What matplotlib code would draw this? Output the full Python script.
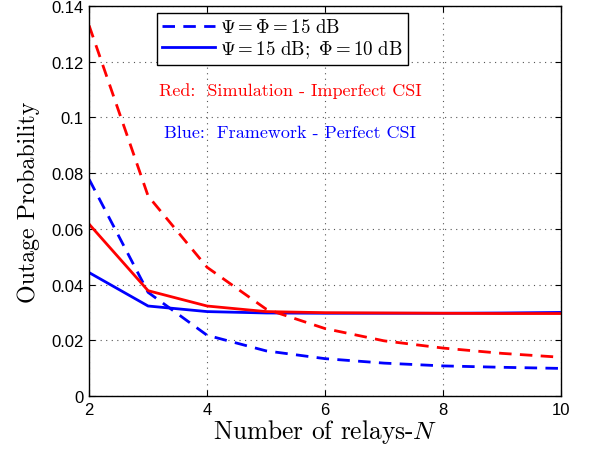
import numpy as np
import matplotlib.pyplot as plt

plt.rcParams['mathtext.fontset'] = 'cm'
plt.rcParams['font.family'] = ['Liberation Sans', 'DejaVu Sans']
plt.rcParams['axes.unicode_minus'] = False

# ==========================================
# DATA
# ==========================================
n_relays = [2, 3, 4, 5, 6, 7, 8, 9, 10]

# Red: simulation, imperfect CSI
sim_equal = [0.1330, 0.0718, 0.0462, 0.0312, 0.0242, 0.0198, 0.0172, 0.0153, 0.0139]
sim_unequal = [0.0617, 0.0378, 0.0323, 0.0303, 0.0299, 0.0298, 0.0297, 0.0296, 0.0296]

# Blue: framework, perfect CSI
fw_equal = [0.0778, 0.0372, 0.0218, 0.0162, 0.0134, 0.0118, 0.0108, 0.0103, 0.0099]
fw_unequal = [0.0443, 0.0323, 0.0303, 0.0298, 0.0297, 0.0297, 0.0297, 0.0298, 0.0300]

x_ticks = [2, 4, 6, 8, 10]
y_ticks = [0, 0.02, 0.04, 0.06, 0.08, 0.1, 0.12, 0.14]
y_ticklabels = ['0', '0.02', '0.04', '0.06', '0.08', '0.1', '0.12', '0.14']

# ==========================================
# PLOT
# ==========================================
fig = plt.figure(figsize=(5.9, 4.52), dpi=100)
ax = fig.add_axes([0.151, 0.1217, 0.800, 0.8628])

dash = (0, (4.5, 3))
ax.plot(n_relays, fw_equal, color='#0000ff', lw=2, linestyle=dash,
        label=r'$\Psi = \Phi = 15\ \mathrm{dB}$')
ax.plot(n_relays, fw_unequal, color='#0000ff', lw=2,
        label=r'$\Psi = 15\ \mathrm{dB};\ \Phi = 10\ \mathrm{dB}$')
ax.plot(n_relays, sim_equal, color='#ff0000', lw=2, linestyle=dash)
ax.plot(n_relays, sim_unequal, color='#ff0000', lw=2)

ax.set_xlim(2, 10)
ax.set_ylim(0, 0.14)
ax.set_xticks(x_ticks)
ax.set_yticks(y_ticks)
ax.set_yticklabels(y_ticklabels)
ax.tick_params(direction='in', labelsize=12, length=4, top=True, right=True, pad=4)
ax.grid(True, color='#555555', linestyle=(0, (1, 4)), linewidth=0.8)
for s in ax.spines.values():
    s.set_linewidth(1.0)

ax.set_xlabel(r'Number of relays-$N$', fontsize=18.3, family='cmr10', labelpad=0.5)
ax.set_ylabel('Outage Probability', fontsize=17.2, family='cmr10', labelpad=8)

ax.text(3.19, 0.1098, 'Red:  Simulation - Imperfect CSI', family='cmr10',
        color='#ff0000', fontsize=13, va='center')
ax.text(3.27, 0.0948, 'Blue:  Framework - Perfect CSI', family='cmr10',
        color='#0000ff', fontsize=13, va='center')

leg = ax.legend(loc='upper left', bbox_to_anchor=(0.144, 0.981), fontsize=13.6,
                fancybox=False, framealpha=1, edgecolor='black', borderpad=0.25,
                handlelength=2.8, handletextpad=0.3, labelspacing=0.1,
                borderaxespad=0)
leg.get_frame().set_linewidth(1.0)

fig.savefig('out.png', dpi=100)
